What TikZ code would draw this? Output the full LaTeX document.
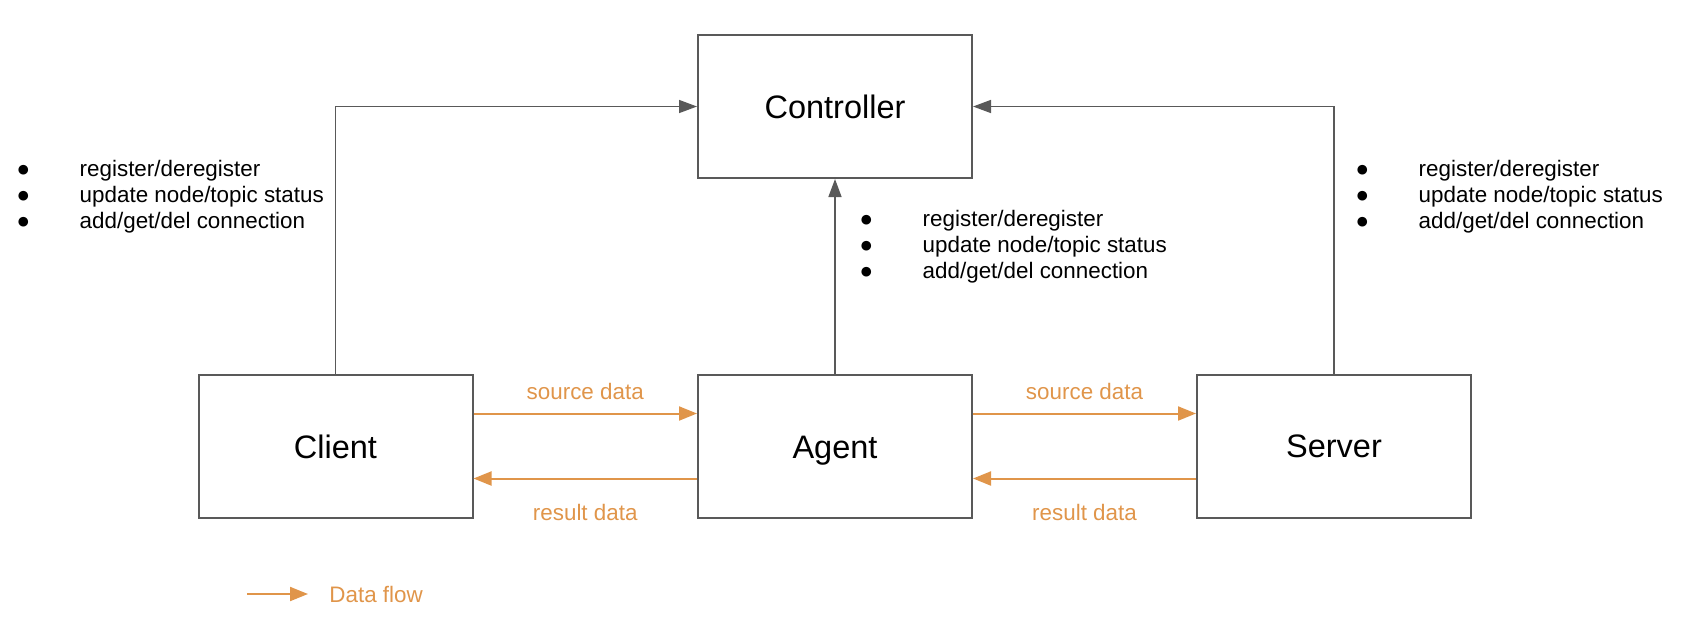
\documentclass[tikz,border=0pt]{standalone}
\usepackage{fontspec}
\setmainfont{Liberation Sans}
\usetikzlibrary{arrows.meta}
\definecolor{linegray}{HTML}{595959}
\definecolor{flowcolor}{HTML}{E0954A}
\tikzstyle{block}=[draw=linegray,line width=1pt,minimum width=137pt,minimum height=71.5pt,inner sep=0pt,text height=11.6pt,text depth=0pt,font=\fontsize{16.25}{19}\selectfont]
\tikzstyle{ctrl}=[draw=linegray,line width=0.75pt,-{Triangle[length=9pt,width=6.5pt]}]
\tikzstyle{flow}=[draw=flowcolor,line width=1pt,-{Triangle[length=9pt,width=7pt]}]
\tikzstyle{flowlabel}=[text=flowcolor,inner sep=0pt,font=\fontsize{11.2}{13}\selectfont]
\tikzstyle{ops}=[anchor=west,inner sep=0pt,font=\fontsize{11.2}{13}\selectfont]
\newcommand{\oplist}{\begin{tabular}{@{}l@{\hspace{24.8pt}}l@{}}
● & register/deregister\\
● & update node/topic status\\
● & add/get/del connection
\end{tabular}}

\begin{document}
\begin{tikzpicture}[x=0.5pt,y=-0.5pt]
\useasboundingbox (0,0) rectangle (1682,628);
\node[block] at (835, 106.5) (controller) {Controller};
\node[block] at (335.5, 446.5) (client) {Client};
\node[block] at (835, 446.5) (agent) {Agent};
\node[block] at (1334, 446) (server) {Server};
\draw[ctrl] (client.north) |- (controller.west);
\draw[ctrl] (server.north) |- (controller.east);
\draw[ctrl] (agent) -- (controller);
\draw[flow] ([yshift=16.5pt]client.east) -- node[flowlabel, yshift=11pt] {source data} ([yshift=16.5pt]agent.west);
\draw[flow] ([yshift=-16pt]agent.west) -- node[flowlabel, yshift=-17pt] {result data} ([yshift=-16pt]client.east);
\draw[flow] ([yshift=16.5pt]agent.east) -- node[flowlabel, yshift=11pt] {source data} ([yshift=16.5pt]agent.east -| server.west);
\draw[flow] ([yshift=-16pt]agent.east -| server.west) -- node[flowlabel, yshift=-17pt] {result data} ([yshift=-16pt]agent.east);
\node[ops] at (16.2, 197) (clientops) {\oplist};
\node[ops] at (859.2, 247) (agentops) {\oplist};
\node[ops] at (1355.2, 197) (serverops) {\oplist};
\coordinate (keyfrom) at (247, 594);
\coordinate (keyto) at (308, 594);
\draw[flow] (keyfrom) -- (keyto);
\node[flowlabel, anchor=west] at (329, 594) (keytext) {Data flow};
\end{tikzpicture}
\end{document}
